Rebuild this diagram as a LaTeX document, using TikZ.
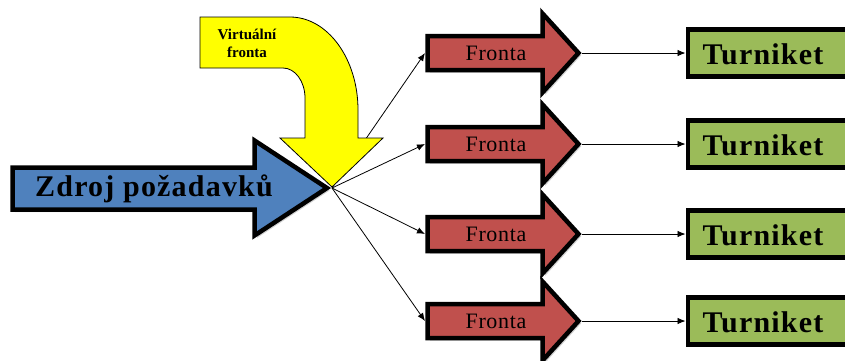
\documentclass[tikz,border=0pt]{standalone}
\usepackage{fontspec}
\setmainfont{Liberation Serif}
\usetikzlibrary{shadows,arrows.meta}

\definecolor{srcblue}{HTML}{4F81BD}
\definecolor{queuered}{HTML}{C0504D}
\definecolor{gategreen}{HTML}{9BBB59}
\definecolor{virtyellow}{HTML}{FFFF00}

\tikzset{
  softshadow/.style={drop shadow={shadow xshift=2.5pt, shadow yshift=-2.5pt, opacity=0.3, fill=black!60}},
  heavy/.style={draw=black, line width=4.5pt, miter limit=10, softshadow},
  srcshape/.style={heavy, fill=srcblue},
  queueshape/.style={heavy, fill=queuered},
  gatebox/.style={heavy, fill=gategreen, rectangle, minimum width=180pt, minimum height=47pt, inner sep=0pt, anchor=west},
  virtshape/.style={draw=black, line width=0.8pt, fill=virtyellow},
  srctext/.style={font=\fontsize{30}{34}\selectfont\bfseries\addfontfeature{LetterSpace=4}},
  queuetext/.style={font=\fontsize{22}{26}\selectfont\addfontfeature{LetterSpace=3}},
  gatetext/.style={font=\fontsize{30}{34}\selectfont\bfseries\addfontfeature{LetterSpace=4}},
  virttext/.style={font=\fontsize{15}{18}\selectfont\bfseries, align=center},
  conn/.style={draw=black, line width=0.8pt, -{Latex[length=8pt,width=6.5pt]}},
}

\begin{document}
\begin{tikzpicture}[x=1pt, y=-1pt]
  \useasboundingbox (0,0) rectangle (845,360);

  % queues (red block arrows) and turnstiles (green boxes)
  \foreach \i/\y in {1/53, 2/144, 3/234, 4/321} {
    \path[queueshape] (427.5,\y-17) -- (542.5,\y-17) -- (542.5,\y-39.5)
      -- (578.5,\y) -- (542.5,\y+39.5) -- (542.5,\y+17) -- (427.5,\y+17) -- cycle;
    \coordinate (q\i tail) at (425,\y);
    \coordinate (q\i tip) at (582,\y);
    \node[queuetext] (q\i) at (496,\y) {Fronta};
    \node[gatebox] (t\i) at (685.5,\y) {};
    \node[gatetext] (g\i) at (763,\y+1) {Turniket};
  }

  % source tip, where all streams split
  \coordinate (srctip) at (332,188);

  % connectors
  \foreach \i in {1,...,4} {
    \draw[conn] (srctip) -- (q\i tail);
    \draw[conn] (q\i tip) -- (t\i.west);
  }

  % source of requests (blue block arrow)
  \path[srcshape] (12.5,167.5) -- (254.5,167.5) -- (254.5,140.5)
    -- (327,188) -- (254.5,235.5) -- (254.5,209.5) -- (12.5,209.5) -- cycle;
  \node[srctext] (src) at (154,189) {Zdroj požadavků};

  % virtual queue (yellow bent arrow)
  \path[virtshape] (200,17) -- (290,17)
    .. controls (327.6,17) and (358,58.7) .. (358,110)
    -- (358,138) -- (383,138) -- (332,187) -- (280,138) -- (305,138) -- (305,98)
    .. controls (305,81.4) and (295.1,68) .. (283,68)
    -- (200,68) -- cycle;
  \node[virttext] (virt) at (247,43) {Virtuální\\fronta};
\end{tikzpicture}
\end{document}
